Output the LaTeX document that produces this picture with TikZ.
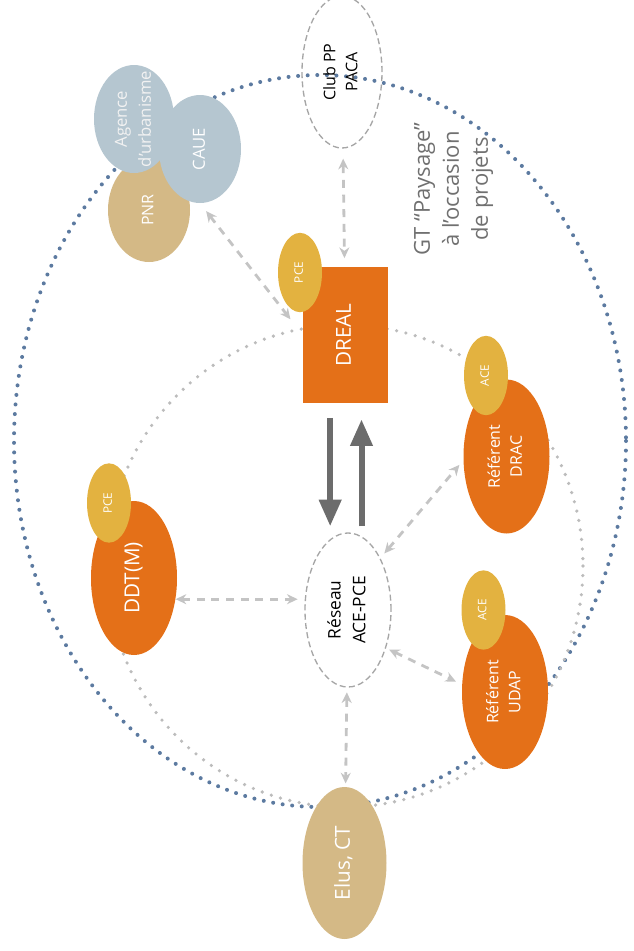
\documentclass[tikz,border=0pt]{standalone}
\usepackage{fontspec}
\setmainfont{Open Sans}
\usetikzlibrary{shapes.geometric,arrows.meta}

\definecolor{dorange}{RGB}{228,112,24}
\definecolor{pyellow}{RGB}{227,178,64}
\definecolor{ptan}{RGB}{212,185,134}
\definecolor{pblue}{RGB}{181,198,208}
\definecolor{ringblue}{RGB}{92,122,160}
\definecolor{ringgray}{RGB}{188,188,188}
\definecolor{linkgray}{RGB}{196,196,196}
\definecolor{flowgray}{RGB}{108,108,108}
\definecolor{gtgray}{RGB}{112,112,112}

% text turned a quarter turn, taking no room in its node
\newcommand{\vt}[1]{\makebox[0pt]{\raisebox{-.5\height}[0pt][0pt]{\rotatebox{90}{\begin{tabular}{@{}c@{}}#1\end{tabular}}}}}

\begin{document}
\begin{tikzpicture}[
  x=0.75pt,
  y=-0.75pt,
  blob/.style={ellipse, inner sep=0pt, text=white},
  big/.style={blob, minimum width=64.5pt, minimum height=115.5pt},
  tag/.style={blob, fill=pyellow, minimum width=33pt, minimum height=59.5pt, font=\fontsize{8.8}{11}\selectfont},
  open/.style={ellipse, inner sep=0pt, draw=gray!70, line width=1pt, dash pattern=on 4.5pt off 2.5pt, text=black},
  ring/.style={line cap=round, dash pattern=on 0pt off 7.2pt},
  link/.style={{Stealth[length=8pt,width=7.5pt]}-{Stealth[length=8pt,width=7.5pt]}, draw=linkgray, line width=2.1pt, dash pattern=on 6pt off 5pt},
  flow/.style={-{Triangle[length=20pt,width=16pt]}, draw=flowgray, line width=4.5pt},
  fbig/.style={font=\fontsize{15.5}{20}\selectfont},
  fmid/.style={font=\fontsize{12}{16.5}\selectfont}
]
  \useasboundingbox (0,0) rectangle (633,951);

  % the two dotted rings
  \draw[ring, draw=ringblue, line width=3pt] (320,441) ellipse [x radius=306, y radius=366];
  \draw[ring, draw=ringgray, line width=2.7pt] (345,566) ellipse [x radius=238, y radius=241];

  \node[open, fmid, minimum width=60pt, minimum height=114pt] (club) at (342,72) {\vt{Club PP\\PACA}};

  \node[blob, fill=ptan, fmid, minimum width=61.5pt, minimum height=78pt] (pnr) at (149,210) {\vt{PNR}};
  \node[blob, fill=pblue, text=white!95!black, font=\fontsize{12.5}{18}\selectfont,
        minimum width=60pt, minimum height=81pt] (agence) at (134,119) {\vt{Agence\\d’urbanisme}};
  \node[blob, fill=pblue, font=\fontsize{12.5}{18}\selectfont,
        minimum width=61.5pt, minimum height=81pt] (caue) at (200,149) {\vt{CAUE}};

  \node[rectangle, fill=dorange, text=white, fbig, inner sep=0pt,
        minimum width=63.75pt, minimum height=102pt] (dreal) at (345.5,335) {\vt{DREAL}};
  \node[tag] (pcedreal) at (300,272.5) {\vt{PCE}};

  \node[big, fill=dorange, fbig] (ddt) at (134,578) {\vt{DDT(M)}};
  \node[tag] (pceddt) at (109,503) {\vt{PCE}};

  \node[open, font=\fontsize{13}{18.5}\selectfont, minimum width=64.5pt, minimum height=115.5pt] (reseau) at (348,610) {\vt{Réseau\\ACE-PCE}};

  \node[big, fill=dorange, fmid] (drac) at (506.5,456.5) {\vt{Référent\\DRAC}};
  \node[tag] (acedrac) at (486,375.5) {\vt{ACE}};

  \node[big, fill=dorange, fmid] (udap) at (505,692) {\vt{Référent\\UDAP}};
  \node[tag] (aceudap) at (483.5,610) {\vt{ACE}};

  \node[big, fill=ptan, fbig, minimum width=63pt, minimum height=114pt] (elus) at (344.5,863) {\vt{Elus, CT}};

  \node[text=gtgray, font=\fontsize{16.5}{21.75}\selectfont, inner sep=0pt] (gt) at (453,189) {\vt{GT “Paysage”\\à l’occasion\\de projets}};

  % exchanges
  \draw[link, shorten <=7.5pt, shorten >=6.5pt] (club) -- (dreal);
  \draw[link, shorten <=7.5pt, shorten >=15pt] (caue.south) -- (dreal.west);
  \coordinate (ddtout) at (ddt.-27);
  \draw[link, shorten >=5pt] (ddtout) -- (ddtout -| reseau.west);
  \draw[link, shorten <=4.5pt, shorten >=4.5pt] (reseau.58) -- (drac.185);
  \draw[link, shorten <=2.5pt, shorten >=5pt] (reseau.-45) -- (udap.170);
  \draw[link, shorten <=3.5pt, shorten >=2.5pt] (reseau) -- (elus);

  \coordinate (down) at ([xshift=-11.5pt]dreal.south);
  \coordinate (up) at ([xshift=12pt]dreal.south);
  \draw[flow, shorten <=11pt, shorten >=4.5pt] (down) -- (down |- reseau.north);
  \draw[flow, shorten <=4.5pt, shorten >=12pt] (up |- reseau.north) -- (up);
\end{tikzpicture}
\end{document}
